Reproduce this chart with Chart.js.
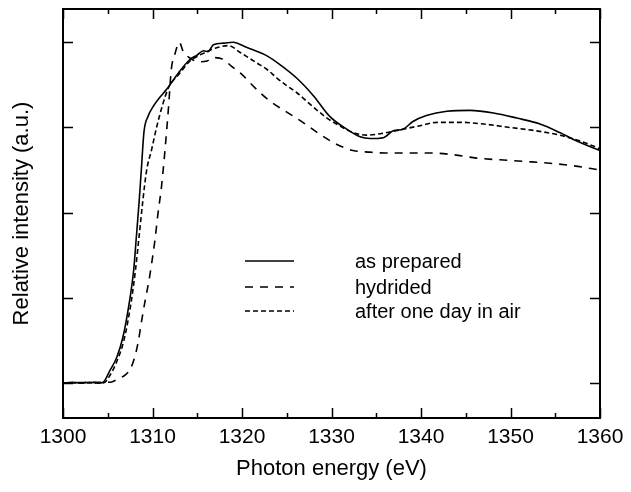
<!DOCTYPE html>
<html>
<head>
<meta charset="utf-8">
<script src="https://cdn.jsdelivr.net/npm/chart.js@4.4.0/dist/chart.umd.min.js"></script>
<style>
  html, body { margin: 0; padding: 0; background: #fff; }
  canvas { display: block; }
</style>
</head>
<body>
<canvas id="myChart" width="631" height="492"></canvas>
<script>
// Photon energy (eV) and relative intensity
const preparedEnergy = [1300, 1301, 1302, 1303, 1304, 1304.5, 1305.25, 1306, 1306.7, 1307.4, 1307.9, 1308.2,
    1308.5, 1308.75, 1309.05, 1309.5, 1310.1, 1310.8, 1311.6, 1312.9, 1314.2, 1315.0, 1315.7, 1316.2,
    1316.8, 1318, 1319, 1320.5, 1321.5, 1322.8, 1324.2, 1326.1, 1328, 1329.8, 1331.7, 1333.2, 1334.3, 1335.8,
    1336.9, 1338, 1339.1, 1340.6, 1342.9, 1345.5, 1348.1, 1350.7, 1353.3, 1355.5, 1357.4, 1360];
const preparedIntensity = [0.0, 0.01, 0.0, 0.01, 0.0, 0.01, 0.15, 0.3, 0.54, 0.94, 1.33, 1.72,
    2.12, 2.5, 2.95, 3.13, 3.25, 3.35, 3.45, 3.64, 3.8, 3.85, 3.9, 3.89,
    3.97, 3.99, 4.0, 3.94, 3.9, 3.84, 3.74, 3.58, 3.37, 3.13, 2.98, 2.89, 2.87, 2.88,
    2.96, 2.98, 3.07, 3.14, 3.19, 3.2, 3.17, 3.11, 3.04, 2.94, 2.84, 2.73];

const hydridedEnergy = [1300, 1304.5, 1305.3, 1306, 1307, 1307.5, 1308, 1308.4, 1308.8, 1309.2, 1309.6, 1309.9,
    1310.3, 1310.6, 1311.0, 1311.4, 1311.8, 1312.1, 1312.5, 1313.0, 1313.4, 1314.4, 1315.2, 1316.1, 1316.8,
    1317.9, 1318.8, 1319.8, 1321.6, 1323.1, 1325, 1326.8, 1328.7, 1330.6, 1332.4, 1334.3, 1336, 1338, 1341,
    1343.6, 1346.2, 1348.8, 1351.8, 1354.4, 1357, 1360];
const hydridedIntensity = [0, 0.01, 0.01, 0.04, 0.1, 0.16, 0.3, 0.48, 0.74, 0.98, 1.2, 1.4,
    1.7, 1.98, 2.3, 2.74, 3.25, 3.68, 3.86, 4.0, 3.9, 3.8, 3.77, 3.78, 3.82,
    3.8, 3.72, 3.64, 3.45, 3.31, 3.18, 3.06, 2.92, 2.8, 2.73, 2.71, 2.7, 2.7, 2.7,
    2.68, 2.64, 2.62, 2.6, 2.58, 2.55, 2.5];

const airEnergy = [1300, 1304.5, 1305.3, 1306, 1306.8, 1307.6, 1308.1, 1308.5, 1308.9, 1309.35, 1309.9, 1310.5,
    1311.2, 1311.8, 1313, 1314.2, 1315.5, 1317, 1318.5, 1319.8, 1321.6, 1322.8, 1323.9, 1325, 1326.1, 1327.2,
    1328.3, 1329.5, 1330.9, 1332.4, 1333.9, 1336.2, 1338, 1339.9, 1341.8, 1344.4, 1347, 1349.9, 1352.9,
    1355.5, 1357.8, 1360];
const airIntensity = [0, 0.0, 0.1, 0.25, 0.5, 0.94, 1.33, 1.72, 2.12, 2.5, 2.74, 3.02,
    3.29, 3.47, 3.63, 3.78, 3.86, 3.93, 3.96, 3.88, 3.76, 3.68, 3.58, 3.49, 3.41, 3.31,
    3.21, 3.11, 3.02, 2.94, 2.91, 2.94, 2.98, 3.02, 3.06, 3.06, 3.04, 3.0, 2.96,
    2.91, 2.84, 2.75];

const seriesNames = ['as prepared', 'hydrided', 'after one day in air'];
const xTickValues = [1300, 1305, 1310, 1315, 1320, 1325, 1330, 1335, 1340, 1345, 1350, 1355, 1360];
const xTickLabels = [1300, 1310, 1320, 1330, 1340, 1350, 1360];
const yTickValues = [0, 1, 2, 3, 4];

const FONT = "'Liberation Sans', Arial, sans-serif";

function toPoints(xs, ys) {
    return xs.map((x, i) => ({ x: x, y: ys[i] }));
}

// Box around the plot with ticks pointing inward on all four sides
const frameTicks = {
    id: 'frameTicks',
    afterDraw(chart) {
        const { ctx, chartArea: a, scales } = chart;
        ctx.save();
        ctx.strokeStyle = '#000';
        ctx.lineWidth = 1.5;
        xTickValues.forEach(v => {
            const px = Math.round(scales.x.getPixelForValue(v)) + 0.5;
            const len = xTickLabels.includes(v) ? 10 : 5;
            ctx.beginPath();
            ctx.moveTo(px, a.bottom); ctx.lineTo(px, a.bottom - len);
            ctx.moveTo(px, a.top); ctx.lineTo(px, a.top + len);
            ctx.stroke();
        });
        yTickValues.forEach(v => {
            const py = Math.round(scales.y.getPixelForValue(v)) + 0.5;
            ctx.beginPath();
            ctx.moveTo(a.left, py); ctx.lineTo(a.left + 10, py);
            ctx.moveTo(a.right, py); ctx.lineTo(a.right - 10, py);
            ctx.stroke();
        });
        ctx.lineWidth = 2;
        ctx.strokeRect(a.left, a.top, a.right - a.left, a.bottom - a.top);
        ctx.restore();
    }
};

// Legend drawn inside the plot, like the original
const innerLegend = {
    id: 'innerLegend',
    afterDraw(chart) {
        const ctx = chart.ctx;
        const rows = [261, 287, 311];
        ctx.save();
        ctx.font = '20px ' + FONT;
        ctx.fillStyle = '#000';
        ctx.textBaseline = 'middle';
        chart.data.datasets.forEach((ds, i) => {
            ctx.strokeStyle = '#000';
            ctx.lineWidth = ds.borderWidth;
            ctx.setLineDash(ds.borderDash || []);
            ctx.beginPath();
            ctx.moveTo(245, rows[i]);
            ctx.lineTo(294, rows[i]);
            ctx.stroke();
            ctx.setLineDash([]);
            ctx.fillText(ds.label, 355, rows[i] + 1);
        });
        ctx.restore();
    }
};

const ctx = document.getElementById('myChart').getContext('2d');
new Chart(ctx, {
    type: 'line',
    data: {
        datasets: [
            { label: seriesNames[0], data: toPoints(preparedEnergy, preparedIntensity), borderDash: [] },
            { label: seriesNames[1], data: toPoints(hydridedEnergy, hydridedIntensity), borderDash: [8, 7] },
            { label: seriesNames[2], data: toPoints(airEnergy, airIntensity), borderDash: [5, 3] }
        ].map(ds => Object.assign(ds, {
            borderColor: '#000',
            borderWidth: 1.6,
            pointRadius: 0,
            fill: false,
            cubicInterpolationMode: 'monotone'
        }))
    },
    options: {
        responsive: false,
        animation: false,
        layout: { padding: { top: 9, right: 31, left: 0, bottom: 0 } },
        plugins: {
            legend: { display: false },
            tooltip: { enabled: false }
        },
        scales: {
            x: {
                type: 'linear',
                min: 1300,
                max: 1360,
                grid: { display: false, drawTicks: false },
                border: { display: false },
                afterBuildTicks: scale => {
                    scale.ticks = xTickValues.map(v => ({ value: v }));
                },
                afterFit: scale => { scale.height = 74; },
                ticks: {
                    autoSkip: false,
                    maxRotation: 0,
                    padding: 7,
                    color: '#000',
                    font: { family: FONT, size: 21 },
                    callback: v => xTickLabels.includes(v) ? String(v) : ''
                },
                title: {
                    display: true,
                    text: 'Photon energy (eV)',
                    color: '#000',
                    font: { family: FONT, size: 22 },
                    padding: { top: 0, bottom: 10 }
                }
            },
            y: {
                type: 'linear',
                min: -0.41,
                max: 4.39,
                grid: { display: false, drawTicks: false },
                border: { display: false },
                afterBuildTicks: scale => {
                    scale.ticks = yTickValues.map(v => ({ value: v }));
                },
                afterFit: scale => { scale.width = 63; },
                ticks: { display: false },
                title: {
                    display: true,
                    text: 'Relative intensity (a.u.)',
                    color: '#000',
                    font: { family: FONT, size: 22 },
                    padding: { top: 9, bottom: 0 }
                }
            }
        }
    },
    plugins: [frameTicks, innerLegend]
});
</script>
</body>
</html>
